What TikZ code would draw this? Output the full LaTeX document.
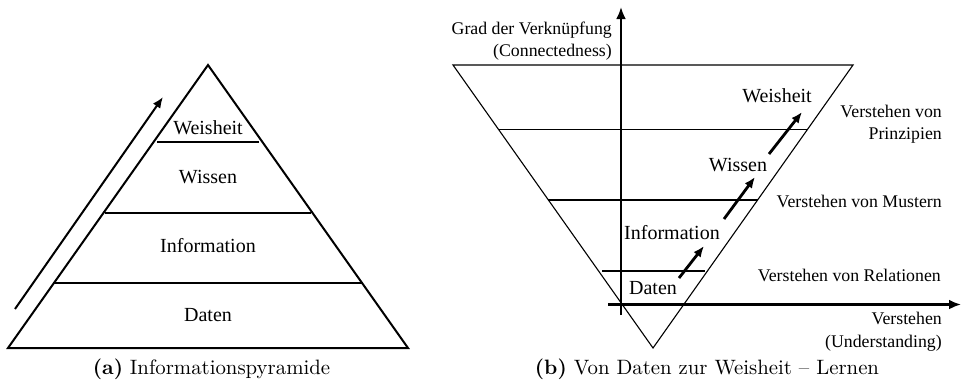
\documentclass[tikz,border=0pt]{standalone}
\usepackage{fontspec}
\newfontfamily\tnr{Liberation Serif}
\usetikzlibrary{arrows.meta}
\begin{document}
\begin{tikzpicture}[x=1pt,y=-1pt,
  lbl/.style={font=\tnr\fontsize{20}{24}\selectfont, inner sep=0pt},
  side/.style={font=\tnr\fontsize{17.8}{22.5}\selectfont, inner sep=0pt, align=right, anchor=east},
  boldline/.style={line width=2pt},
  thinline/.style={line width=1.1pt},
  axis/.style={line width=2.8pt, -{Latex[length=12pt,width=10pt]}},
  stepup/.style={line width=2.8pt, -{Latex[length=11pt,width=9pt]}},
  climb/.style={line width=2pt, -{Latex[length=11pt,width=9pt]}},
  captext/.style={inner sep=0pt, anchor=base}]
\useasboundingbox (0,0) rectangle (961,384);

% ---------- (a) information pyramid ----------
\coordinate (pa) at (208,65);
\coordinate (pl) at (8,348);
\coordinate (pr) at (408,348);
\draw[boldline, line join=miter] (pa) -- (pl) -- (pr) -- cycle;
\coordinate (w1) at (157,142);  \coordinate (w2) at (259,142);
\coordinate (k1) at (105,213);  \coordinate (k2) at (311,213);
\coordinate (i1) at (54,283);   \coordinate (i2) at (362,283);
\draw[boldline] (w1) -- (w2);
\draw[boldline] (k1) -- (k2);
\draw[boldline] (i1) -- (i2);
\node[lbl] (pw) at (208,128) {Weisheit};
\node[lbl] (pk) at (208,177) {Wissen};
\node[lbl] (pi) at (208,246) {Information};
\node[lbl] (pd) at (208,315) {Daten};
\coordinate (up0) at (15,309);
\coordinate (up1) at (163,97);
\draw[climb] (up0) -- (up1);
\node[captext] (capa) at (211.5,374) {\scalebox{2.08}{\textbf{(a)} Informationspyramide}};

% ---------- (b) from data to wisdom ----------
\coordinate (tl) at (453,65);
\coordinate (tr) at (853,65);
\coordinate (tb) at (653,348);
\draw[thinline, line join=miter] (tl) -- (tr) -- (tb) -- cycle;
\coordinate (l1a) at (498.4,129.3); \coordinate (l1b) at (807.6,129.3);
\coordinate (l2a) at (548.4,200);   \coordinate (l2b) at (757.6,200);
\coordinate (l3a) at (602,271);     \coordinate (l3b) at (705,271);
\draw[thinline] (l1a) -- (l1b);
\draw[thinline] (l2a) -- (l2b);
\draw[thinline] (l3a) -- (l3b);

% axes
\coordinate (yb) at (621,315);
\coordinate (yt) at (621,7);
\coordinate (xl) at (608,304.5);
\coordinate (xr) at (961,304.5);
\draw[axis] (yb) -- (yt);
\draw[axis] (xl) -- (xr);

% levels
\node[lbl] (bw) at (777,96) {Weisheit};
\node[lbl] (bk) at (738,165) {Wissen};
\node[lbl] (bi) at (672,233) {Information};
\node[lbl] (bd) at (653,288) {Daten};
\coordinate (s1a) at (679,278); \coordinate (s1b) at (704,246);
\coordinate (s2a) at (724,219); \coordinate (s2b) at (755,177);
\coordinate (s3a) at (769,154); \coordinate (s3b) at (802,112);
\draw[stepup] (s1a) -- (s1b);
\draw[stepup] (s2a) -- (s2b);
\draw[stepup] (s3a) -- (s3b);

% axis and level descriptions
\node[side] (ylab) at (612,41) {Grad der Verknüpfung\\(Connectedness)};
\node[side] (vp) at (942,124) {Verstehen von\\Prinzipien};
\node[side] (vm) at (942,201.7) {Verstehen von Mustern};
\node[side] (vr) at (941,275) {Verstehen von Relationen};
\node[side] (xlab) at (942,331.5) {Verstehen\\(Understanding)};
\node[captext] (capb) at (707,374) {\scalebox{2.08}{\textbf{(b)} Von Daten zur Weisheit -- Lernen}};
\end{tikzpicture}
\end{document}
